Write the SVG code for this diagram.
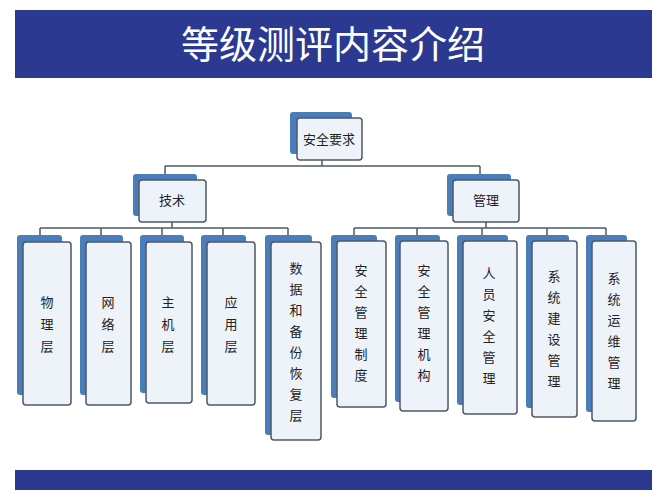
<svg xmlns="http://www.w3.org/2000/svg" width="667" height="500" viewBox="0 0 667 500">
<style>
.bk{fill:#4a7ebb}
.fr{fill:#eef3fa;stroke:#4d5866;stroke-width:1.5}
.t{font-family:"Noto Sans CJK SC",serif;font-size:13px;fill:#222;text-anchor:middle}
.c{fill:none;stroke:#4d5866;stroke-width:1.5}
</style>
<rect width="667" height="500" fill="#fff"/>
<rect x="15" y="10" width="637" height="68" fill="#2b3990"/>
<rect x="15" y="470" width="637" height="20" fill="#2b3990"/>
<text x="333" y="58" font-family="Noto Sans CJK SC,serif" font-size="38" fill="#fff" text-anchor="middle">等级测评内容介绍</text>
<g id="connectors" class="c">
<path d="M322 160V166M165 166H480M165 166V174M480 166V174"/>
<path d="M172 222V228M40 228H288M40 228V235M101 228V235M162 228V235M223 228V235M288 228V235"/>
<path d="M486 222V228M354 228H606M354 228V235M417 228V235M482 228V235M547 228V235M606 228V235"/>
</g>
<g id="n0"><rect class="bk" x="290" y="112" width="62" height="42" rx="3"/><rect class="fr" x="297" y="118" width="65" height="42" rx="3"/><text class="t" x="329" y="144">安全要求</text></g>
<g id="n1"><rect class="bk" x="133" y="174" width="64" height="42" rx="3"/><rect class="fr" x="139" y="180" width="67" height="42" rx="3"/><text class="t" x="172" y="205">技术</text></g>
<g id="n2"><rect class="bk" x="447" y="174" width="64" height="42" rx="3"/><rect class="fr" x="453" y="180" width="66" height="42" rx="3"/><text class="t" x="486" y="205">管理</text></g>
<g id="n3"><rect class="bk" x="17" y="235" width="45" height="160" rx="3"/><rect class="fr" x="23" y="242" width="48" height="163" rx="3"/><text class="t" x="47"><tspan x="47" y="307">物</tspan><tspan x="47" y="329">理</tspan><tspan x="47" y="351">层</tspan></text></g>
<g id="n4"><rect class="bk" x="80" y="235" width="43" height="160" rx="3"/><rect class="fr" x="86" y="242" width="45" height="163" rx="3"/><text class="t"><tspan x="108" y="307">网</tspan><tspan x="108" y="329">络</tspan><tspan x="108" y="351">层</tspan></text></g>
<g id="n5"><rect class="bk" x="140" y="235" width="44" height="158" rx="3"/><rect class="fr" x="146" y="242" width="46" height="161" rx="3"/><text class="t"><tspan x="168" y="307">主</tspan><tspan x="168" y="329">机</tspan><tspan x="168" y="351">层</tspan></text></g>
<g id="n6"><rect class="bk" x="201" y="235" width="45" height="160" rx="3"/><rect class="fr" x="207" y="242" width="48" height="163" rx="3"/><text class="t"><tspan x="231" y="307">应</tspan><tspan x="231" y="329">用</tspan><tspan x="231" y="351">层</tspan></text></g>
<g id="n7"><rect class="bk" x="265" y="235" width="47" height="200" rx="3"/><rect class="fr" x="271" y="242" width="50" height="198" rx="3"/><text class="t"><tspan x="296" y="273">数</tspan><tspan x="296" y="294">据</tspan><tspan x="296" y="315">和</tspan><tspan x="296" y="336">备</tspan><tspan x="296" y="357">份</tspan><tspan x="296" y="378">恢</tspan><tspan x="296" y="399">复</tspan><tspan x="296" y="420">层</tspan></text></g>
<g id="n8"><rect class="bk" x="331" y="235" width="46" height="163" rx="3"/><rect class="fr" x="337" y="241" width="49" height="166" rx="3"/><text class="t"><tspan x="361" y="275">安</tspan><tspan x="361" y="296">全</tspan><tspan x="361" y="317">管</tspan><tspan x="361" y="338">理</tspan><tspan x="361" y="359">制</tspan><tspan x="361" y="380">度</tspan></text></g>
<g id="n9"><rect class="bk" x="395" y="235" width="45" height="167" rx="3"/><rect class="fr" x="400" y="241" width="48" height="170" rx="3"/><text class="t"><tspan x="424" y="275">安</tspan><tspan x="424" y="296">全</tspan><tspan x="424" y="317">管</tspan><tspan x="424" y="338">理</tspan><tspan x="424" y="359">机</tspan><tspan x="424" y="380">构</tspan></text></g>
<g id="n10"><rect class="bk" x="457" y="235" width="51" height="170" rx="3"/><rect class="fr" x="463" y="241" width="54" height="173" rx="3"/><text class="t"><tspan x="489" y="278">人</tspan><tspan x="489" y="299">员</tspan><tspan x="489" y="320">安</tspan><tspan x="489" y="341">全</tspan><tspan x="489" y="362">管</tspan><tspan x="489" y="383">理</tspan></text></g>
<g id="n11"><rect class="bk" x="526" y="235" width="43" height="173" rx="3"/><rect class="fr" x="532" y="241" width="45" height="176" rx="3"/><text class="t"><tspan x="554" y="281">系</tspan><tspan x="554" y="302">统</tspan><tspan x="554" y="323">建</tspan><tspan x="554" y="344">设</tspan><tspan x="554" y="365">管</tspan><tspan x="554" y="386">理</tspan></text></g>
<g id="n12"><rect class="bk" x="586" y="235" width="41" height="177" rx="3"/><rect class="fr" x="592" y="241" width="44" height="180" rx="3"/><text class="t"><tspan x="614" y="283">系</tspan><tspan x="614" y="304">统</tspan><tspan x="614" y="325">运</tspan><tspan x="614" y="346">维</tspan><tspan x="614" y="367">管</tspan><tspan x="614" y="388">理</tspan></text></g>
</svg>
